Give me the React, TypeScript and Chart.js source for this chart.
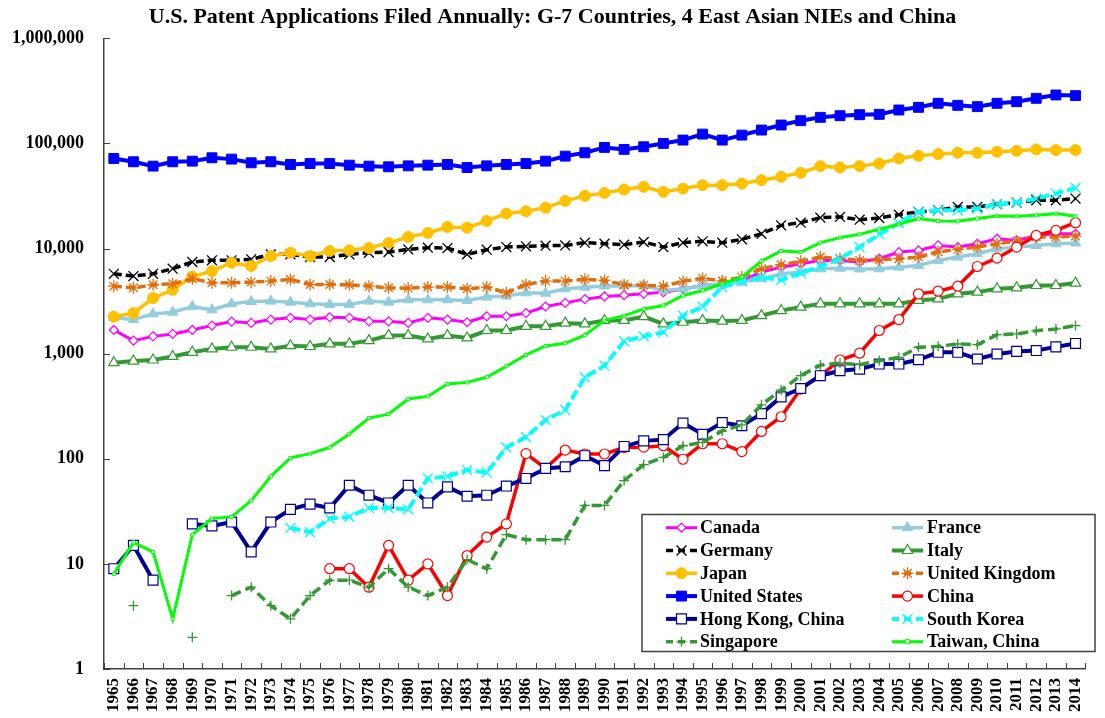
import React, { useEffect, useRef } from 'react';
import { Chart, registerables } from 'chart.js';

Chart.register(...registerables);

const FONT = "'Liberation Serif', 'Times New Roman', serif";

const years = [
  '1965','1966','1967','1968','1969','1970','1971','1972','1973','1974',
  '1975','1976','1977','1978','1979','1980','1981','1982','1983','1984',
  '1985','1986','1987','1988','1989','1990','1991','1992','1993','1994',
  '1995','1996','1997','1998','1999','2000','2001','2002','2003','2004',
  '2005','2006','2007','2008','2009','2010','2011','2012','2013','2014',
];

const yTickValues = [1, 10, 100, 1000, 10000, 100000, 1000000];
const yTickLabels = ['1', '10', '100', '1,000', '10,000', '100,000', '1,000,000'];

const canada = [
  1680, 1330, 1460, 1540, 1680, 1850, 2020, 1960, 2110, 2190,
  2110, 2220, 2190, 2030, 2030, 1960, 2190, 2110, 1990, 2270,
  2270, 2430, 2810, 3040, 3300, 3500, 3600, 3710, 3840, 4130,
  4450, 4600, 4960, 5960, 6650, 7160, 7700, 7700, 7430, 8000,
  9250, 9600, 10700, 10320, 11100, 12400, 11950, 13300, 13830, 13830,
];
const france = [
  2190, 2110, 2390, 2480, 2810, 2610, 2980, 3140, 3160, 3090,
  2980, 2930, 2930, 3160, 3090, 3250, 3250, 3250, 3200, 3450,
  3530, 3790, 3760, 4140, 4290, 4400, 4400, 4450, 3980, 4130,
  4450, 4600, 4790, 5150, 5750, 5960, 6410, 6500, 6400, 6420,
  6650, 6900, 7710, 8290, 8920, 9950, 10320, 10700, 11100, 11300,
];
const germany = [
  5750, 5470, 5750, 6430, 7440, 7720, 7720, 7890, 8800, 8800,
  8290, 8290, 8800, 9120, 9270, 9820, 10190, 10100, 8800, 9750,
  10330, 10490, 10650, 10700, 11370, 11120, 10880, 11540, 10330, 11370,
  11710, 11370, 12230, 13830, 16620, 17620, 19670, 19970, 18830, 19530,
  21020, 22290, 23120, 24890, 24890, 26370, 27360, 28790, 28790, 29860,
];
const italy = [
  820, 850, 870, 940, 1030, 1110, 1150, 1150, 1110, 1190,
  1170, 1240, 1240, 1330, 1490, 1490, 1380, 1490, 1410, 1660,
  1660, 1820, 1820, 1950, 1920, 2070, 2070, 2250, 1920, 1990,
  2070, 2040, 2070, 2300, 2570, 2770, 2980, 2980, 2980, 2980,
  2980, 3210, 3320, 3710, 3850, 4140, 4230, 4450, 4450, 4690,
];
const japan = [
  2250, 2430, 3380, 4050, 5420, 6100, 7330, 6810, 8480, 9130,
  8480, 9460, 9610, 10100, 11300, 12880, 14060, 16040, 15800, 18300,
  21500, 22600, 24500, 28400, 31700, 33800, 36400, 38600, 34600, 37200,
  40100, 40100, 41500, 44700, 48100, 52500, 60800, 59000, 60800, 64400,
  71900, 76200, 79100, 81500, 81500, 83300, 85100, 87700, 86400, 86400,
];
const unitedKingdom = [
  4380, 4230, 4520, 4620, 5160, 4720, 4720, 4790, 4900, 5080,
  4550, 4550, 4520, 4380, 4230, 4200, 4300, 4300, 4140, 4300,
  3790, 4550, 4900, 4900, 5100, 4970, 4530, 4480, 4380, 4870,
  5200, 4930, 5350, 6420, 7010, 7550, 8300, 8000, 7720, 7830,
  8000, 8300, 9270, 9820, 10330, 11120, 11710, 12870, 12870, 13150,
];
const unitedStates = [
  71900, 66900, 60800, 66900, 67800, 73000, 70900, 65400, 66900, 63100,
  64400, 64400, 62100, 60800, 59900, 61200, 62100, 63100, 59000, 61200,
  63100, 64400, 67800, 75700, 81500, 91600, 87700, 92900, 100000, 107600,
  122700, 107600, 120000, 134000, 149600, 164600, 177000, 183600, 187600, 189000,
  208000, 220500, 240800, 230300, 223800, 240800, 249500, 268500, 289000, 285000,
];
const china = [
  null, null, null, null, null, null, null, null, null, null,
  null, 9, 9, 6, 15, 7, 10, 5, 12, 18,
  24, 112, 81, 121, 111, 111, 128, 129, 133, 99,
  139, 139, 117, 182, 251, 460, 617, 870, 1010, 1660,
  2110, 3710, 3930, 4380, 6750, 8100, 10330, 13340, 14880, 17600,
];
const hongKong = [
  9, 15, 7, null, 24, 23, 25, 13, 25, 33,
  37, 34, 56, 45, 38, 56, 38, 54, 44, 45,
  55, 65, 81, 84, 107, 86, 131, 148, 152, 219,
  171, 221, 206, 269, 388, 466, 617, 688, 713, 796,
  796, 875, 1030, 1030, 889, 992, 1050, 1070, 1160, 1250,
];
const southKorea = [
  null, null, null, null, null, null, null, null, null, 22,
  20, 27, 28, 34, 34, 33, 65, 68, 78, 74,
  128, 161, 233, 291, 596, 769, 1312, 1460, 1600, 2300,
  2800, 4290, 4870, 5350, 5000, 5850, 6750, 8000, 10330, 13650,
  17500, 22290, 23100, 23100, 24000, 26370, 27360, 29860, 33340, 37770,
];
const singapore = [
  null, 4, null, null, 2, null, 5, 6, 4, 3,
  5, 7, 7, 6, 9, 6, 5, 6, 11, 9,
  19, 17, 17, 17, 36, 36, 62, 88, 103, 133,
  143, 184, 210, 326, 450, 617, 778, 814, 785, 857,
  922, 1150, 1175, 1236, 1217, 1516, 1540, 1655, 1717, 1849,
];
const taiwan = [
  8, 16, 13, 3, 19, 27, 28, 40, 68, 102,
  112, 128, 172, 244, 266, 370, 392, 514, 533, 596,
  758, 972, 1184, 1255, 1500, 2060, 2300, 2660, 2870, 3580,
  3990, 4620, 5350, 7600, 9470, 9260, 11380, 12700, 13650, 15230,
  17020, 19280, 18290, 18160, 19280, 20420, 20270, 20700, 21480, 20270,
];

type SeriesStyle = {
  label: string;
  data: (number | null)[];
  color: string;
  width: number;
  dash: number[];
  point: string;
  radius: number;
  pointFill: string;
  pointStroke: string;
  pointWidth: number;
};

const series: SeriesStyle[] = [
  { label: 'Canada', data: canada, color: '#ff00ff', width: 3, dash: [], point: 'rectRot', radius: 4.5, pointFill: '#ffffff', pointStroke: '#ff00ff', pointWidth: 1.2 },
  { label: 'France', data: france, color: '#93cddd', width: 3.5, dash: [], point: 'triangle', radius: 6, pointFill: '#93cddd', pointStroke: '#93cddd', pointWidth: 1 },
  { label: 'Germany', data: germany, color: '#000000', width: 3.5, dash: [8, 4], point: 'crossRot', radius: 7, pointFill: '#000000', pointStroke: '#000000', pointWidth: 1.3 },
  { label: 'Italy', data: italy, color: '#339933', width: 4, dash: [], point: 'triangle', radius: 6, pointFill: '#ffffff', pointStroke: '#339933', pointWidth: 1.2 },
  { label: 'Japan', data: japan, color: '#ffc000', width: 3.5, dash: [], point: 'circle', radius: 5.5, pointFill: '#ffc000', pointStroke: '#ffc000', pointWidth: 1 },
  { label: 'United Kingdom', data: unitedKingdom, color: '#e46c0a', width: 3.5, dash: [8, 4], point: 'star', radius: 6, pointFill: '#e46c0a', pointStroke: '#e46c0a', pointWidth: 1.3 },
  { label: 'United States', data: unitedStates, color: '#0000ff', width: 4, dash: [], point: 'rect', radius: 7, pointFill: '#0000ff', pointStroke: '#0000ff', pointWidth: 1 },
  { label: 'China', data: china, color: '#ff0000', width: 3.5, dash: [], point: 'circle', radius: 5, pointFill: '#ffffff', pointStroke: '#ff0000', pointWidth: 1.2 },
  { label: 'Hong Kong, China', data: hongKong, color: '#000099', width: 4, dash: [], point: 'rect', radius: 7, pointFill: '#ffffff', pointStroke: '#000099', pointWidth: 1.2 },
  { label: 'South Korea', data: southKorea, color: '#00ffff', width: 4, dash: [10, 4], point: 'crossRot', radius: 7, pointFill: '#00ffff', pointStroke: '#00ffff', pointWidth: 1.3 },
  { label: 'Singapore', data: singapore, color: '#339933', width: 3.5, dash: [10, 5], point: 'cross', radius: 5, pointFill: '#339933', pointStroke: '#339933', pointWidth: 1.3 },
  { label: 'Taiwan, China', data: taiwan, color: '#00ff00', width: 3, dash: [], point: 'rect', radius: 2.2, pointFill: '#ffffff', pointStroke: '#00ff00', pointWidth: 1 },
];

function drawMarker(ctx: CanvasRenderingContext2D, s: SeriesStyle, x: number, y: number) {
  const r = s.radius;
  ctx.save();
  ctx.setLineDash([]);
  ctx.lineWidth = s.pointWidth;
  ctx.strokeStyle = s.pointStroke;
  ctx.fillStyle = s.pointFill;
  ctx.beginPath();
  switch (s.point) {
    case 'circle':
      ctx.arc(x, y, r, 0, Math.PI * 2);
      ctx.fill();
      ctx.stroke();
      break;
    case 'rect': {
      const h = r * Math.SQRT1_2;
      ctx.rect(x - h, y - h, 2 * h, 2 * h);
      ctx.fill();
      ctx.stroke();
      break;
    }
    case 'rectRot':
      ctx.moveTo(x - r, y);
      ctx.lineTo(x, y - r);
      ctx.lineTo(x + r, y);
      ctx.lineTo(x, y + r);
      ctx.closePath();
      ctx.fill();
      ctx.stroke();
      break;
    case 'triangle':
      ctx.moveTo(x, y - r);
      ctx.lineTo(x + 0.866 * r, y + 0.5 * r);
      ctx.lineTo(x - 0.866 * r, y + 0.5 * r);
      ctx.closePath();
      ctx.fill();
      ctx.stroke();
      break;
    case 'crossRot': {
      const d = r * Math.SQRT1_2;
      ctx.moveTo(x - d, y - d); ctx.lineTo(x + d, y + d);
      ctx.moveTo(x - d, y + d); ctx.lineTo(x + d, y - d);
      ctx.stroke();
      break;
    }
    case 'cross':
      ctx.moveTo(x - r, y); ctx.lineTo(x + r, y);
      ctx.moveTo(x, y - r); ctx.lineTo(x, y + r);
      ctx.stroke();
      break;
    case 'star': {
      const d = r * Math.SQRT1_2;
      ctx.moveTo(x - d, y - d); ctx.lineTo(x + d, y + d);
      ctx.moveTo(x - d, y + d); ctx.lineTo(x + d, y - d);
      ctx.moveTo(x - r, y); ctx.lineTo(x + r, y);
      ctx.moveTo(x, y - r); ctx.lineTo(x, y + r);
      ctx.stroke();
      break;
    }
    default:
      break;
  }
  ctx.restore();
}

const axisTicksPlugin = {
  id: 'insideTicks',
  beforeDatasetsDraw(chart: any) {
    const ctx = chart.ctx as CanvasRenderingContext2D;
    const xs = chart.scales.x;
    const ys = chart.scales.y;
    const area = chart.chartArea;
    ctx.save();
    ctx.strokeStyle = '#404040';
    ctx.lineWidth = 1;
    const n = years.length;
    const step = xs.getPixelForValue(1) - xs.getPixelForValue(0);
    for (let k = 0; k <= n; k++) {
      const x = Math.round(xs.getPixelForValue(0) - step / 2 + k * step) + 0.5;
      ctx.beginPath();
      ctx.moveTo(x, area.bottom);
      ctx.lineTo(x, area.bottom - 6);
      ctx.stroke();
    }
    for (const v of yTickValues) {
      const y = Math.round(ys.getPixelForValue(v)) + 0.5;
      ctx.beginPath();
      ctx.moveTo(area.left, y);
      ctx.lineTo(area.left + 6, y);
      ctx.stroke();
    }
    ctx.restore();
  },
};

const legendPlugin = {
  id: 'boxLegend',
  afterDatasetsDraw(chart: any) {
    const ctx = chart.ctx as CanvasRenderingContext2D;
    const bx = 642, by = 514.5, bw = 453, bh = 137;
    ctx.save();
    ctx.fillStyle = '#ffffff';
    ctx.fillRect(bx, by, bw, bh);
    ctx.strokeStyle = '#404040';
    ctx.lineWidth = 1.5;
    ctx.strokeRect(bx, by, bw, bh);
    ctx.font = `bold 18px ${FONT}`;
    ctx.textBaseline = 'middle';
    ctx.textAlign = 'left';
    series.forEach((s, i) => {
      const row = Math.floor(i / 2);
      const col = i % 2;
      const cy = 527.7 + row * 22.8;
      const lx0 = col === 0 ? 666 : 892;
      const lx1 = lx0 + 31;
      const mx = (lx0 + lx1) / 2;
      const tx = col === 0 ? 700 : 927;
      ctx.save();
      ctx.strokeStyle = s.color;
      ctx.lineWidth = s.width;
      ctx.setLineDash(s.dash.length ? [7, 5] : []);
      ctx.beginPath();
      ctx.moveTo(lx0, cy);
      ctx.lineTo(lx1, cy);
      ctx.stroke();
      ctx.restore();
      drawMarker(ctx, s.point === 'rect' && s.radius < 3 ? { ...s, radius: 3 } : s, mx, cy);
      ctx.fillStyle = '#000000';
      ctx.fillText(s.label, tx, cy + 1);
    });
    ctx.restore();
  },
};

export default function App() {
  const canvasRef = useRef<HTMLCanvasElement | null>(null);

  useEffect(() => {
    const canvas = canvasRef.current;
    if (!canvas) return;
    const chart = new Chart(canvas, {
      type: 'line',
      data: {
        labels: years,
        datasets: series.map((s, i) => ({
          label: s.label,
          data: s.data,
          borderColor: s.color,
          backgroundColor: s.color,
          borderWidth: s.width,
          borderDash: s.dash,
          pointStyle: s.point as any,
          pointRadius: s.radius,
          pointHoverRadius: s.radius,
          pointBackgroundColor: s.pointFill,
          pointBorderColor: s.pointStroke,
          pointBorderWidth: s.pointWidth,
          spanGaps: false,
          tension: 0,
          fill: false,
          order: series.length - i,
        })),
      },
      options: {
        responsive: false,
        animation: false,
        events: [],
        layout: { padding: { left: 0, right: 0, top: 0, bottom: 0 } },
        plugins: {
          legend: { display: false },
          tooltip: { enabled: false },
          title: {
            display: true,
            text: 'U.S. Patent Applications Filed Annually: G-7 Countries, 4 East Asian NIEs and China',
            color: '#000000',
            font: { family: FONT, size: 22, weight: 'bold' },
            padding: { top: 4, bottom: 7.9 },
          },
        },
        scales: {
          x: {
            type: 'category',
            offset: true,
            grid: { display: false, drawTicks: false },
            border: { display: true, color: '#404040', width: 1.5 },
            ticks: {
              autoSkip: false,
              maxRotation: 90,
              minRotation: 90,
              color: '#000000',
              padding: 9,
              font: { family: FONT, size: 17, weight: 'bold' },
            },
            afterFit: (s: any) => { s.height = 49; },
          },
          y: {
            type: 'logarithmic',
            min: 1,
            max: 1000000,
            afterBuildTicks: (s: any) => { s.ticks = yTickValues.map((v) => ({ value: v })); },
            grid: { display: false, drawTicks: false },
            border: { display: true, color: '#404040', width: 1.5 },
            ticks: {
              color: '#000000',
              padding: 20,
              font: { family: FONT, size: 18, weight: 'bold' },
              callback: (v: any) => {
                const idx = yTickValues.indexOf(Number(v));
                return idx >= 0 ? yTickLabels[idx] : '';
              },
            },
            afterFit: (s: any) => { s.width = 104; },
          },
        },
      },
      plugins: [axisTicksPlugin, legendPlugin],
    });
    return () => chart.destroy();
  }, []);

  return (
    <div style={{ position: 'absolute', left: 0, top: 0, width: 1105, height: 718, background: '#ffffff' }}>
      <canvas ref={canvasRef} width={1105} height={718} style={{ display: 'block' }} />
    </div>
  );
}
